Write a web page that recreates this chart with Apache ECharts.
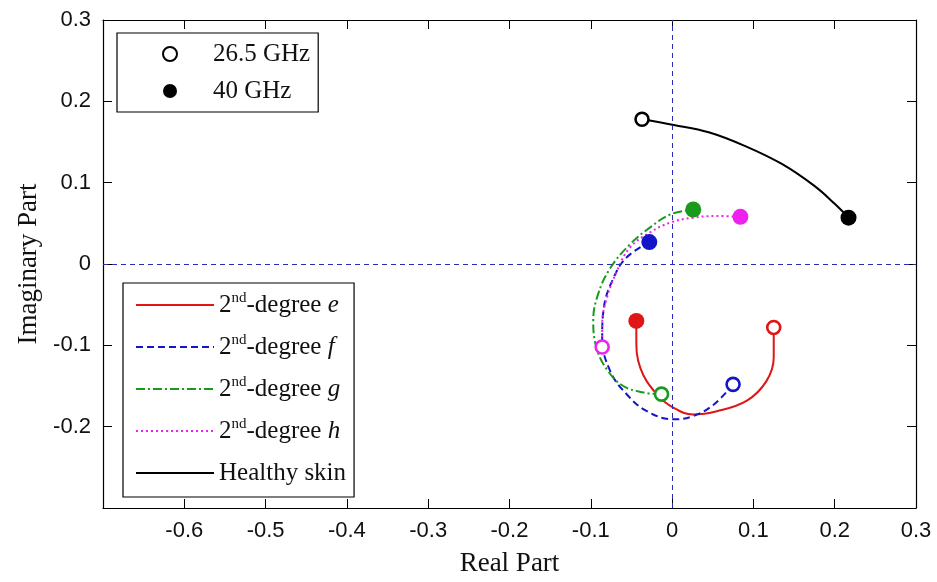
<!DOCTYPE html>
<html style="height: 100%">
<head>
<meta charset="utf-8">
</head>
<body style="height: 100%; margin: 0; background: #fff">
<div id="container" style="width: 937px; height: 582px"></div>
<script src="https://cdn.jsdelivr.net/npm/echarts@6/dist/echarts.min.js"></script>
<script type="text/javascript">
// points run from the 26.5 GHz end to the 40 GHz end: [real, imaginary]
var curveE = [[0.125,-0.078],[0.125,-0.115],[0.116,-0.144],[0.092,-0.168],[0.055,-0.181],[0.026,-0.185],[0.002,-0.177],[-0.019,-0.160],[-0.039,-0.128],[-0.044,-0.091],[-0.044,-0.070]];
var curveF = [[0.075,-0.148],[0.051,-0.173],[0.026,-0.187],[0.002,-0.191],[-0.031,-0.181],[-0.056,-0.160],[-0.076,-0.132],[-0.086,-0.091],[-0.084,-0.054],[-0.072,-0.017],[-0.056,0.008],[-0.028,0.027]];
var curveG = [[-0.013,-0.160],[-0.035,-0.158],[-0.060,-0.150],[-0.080,-0.130],[-0.093,-0.103],[-0.097,-0.070],[-0.091,-0.037],[-0.076,-0.005],[-0.052,0.024],[-0.027,0.045],[-0.002,0.061],[0.026,0.067]];
var curveH = [[-0.086,-0.102],[-0.086,-0.074],[-0.080,-0.041],[-0.068,-0.009],[-0.052,0.020],[-0.027,0.039],[-0.002,0.051],[0.026,0.057],[0.055,0.059],[0.084,0.058]];
var curveSkin = [[-0.037,0.178],[0.002,0.171],[0.045,0.162],[0.090,0.145],[0.135,0.123],[0.175,0.096],[0.200,0.074],[0.217,0.057]];

var curveNames = ['2nd-degree e', '2nd-degree f', '2nd-degree g', '2nd-degree h', 'Healthy skin'];
var curveLetters = ['e', 'f', 'g', 'h', ''];
var curveData = [curveE, curveF, curveG, curveH, curveSkin];
var curveColors = ['#e01515', '#1515c8', '#1a9a1a', '#ee22ee', '#000000'];
var curveDash = ['solid', [7, 4], [9, 3, 2, 3], [2, 3], 'solid'];

var dom = document.getElementById('container');
var myChart = echarts.init(dom);
var serif = 'Liberation Serif';
var sans = 'Liberation Sans';

var series = curveData.map(function (pts, i) {
    var s = {
        name: curveNames[i],
        type: 'line',
        data: pts,
        symbol: 'none',
        smooth: 0.4,
        z: 2,
        lineStyle: { color: curveColors[i], width: 2, type: curveDash[i] },
        itemStyle: { color: curveColors[i] }
    };
    if (i === 4) {
        s.markLine = {
            silent: true,
            symbol: ['none', 'none'],
            label: { show: false },
            lineStyle: { color: '#2a2ab8', width: 1, type: [5, 4] },
            data: [{ xAxis: 0 }, { yAxis: 0 }]
        };
    }
    return s;
});

series.push({
    name: '26.5 GHz',
    type: 'scatter',
    symbolSize: 13,
    z: 5,
    itemStyle: { color: '#fff', borderColor: '#000', borderWidth: 2.6, opacity: 1 },
    data: curveData.map(function (pts, i) {
        return { value: pts[0], itemStyle: { borderColor: curveColors[i] } };
    })
});
series.push({
    name: '40 GHz',
    type: 'scatter',
    symbolSize: 16,
    z: 5,
    itemStyle: { color: '#000', opacity: 1 },
    data: curveData.map(function (pts, i) {
        return { value: pts[pts.length - 1], itemStyle: { color: curveColors[i] } };
    })
});

var tickStyle = { show: true, inside: true, length: 9, lineStyle: { color: '#000', width: 1 } };
var lineStyle = { show: true, onZero: false, lineStyle: { color: '#000', width: 1.2 } };

var option = {
    animation: false,
    backgroundColor: '#fff',
    grid: { left: 103, top: 20, right: 21, bottom: 74 },
    legend: [{
        left: 117, top: 33,
        orient: 'vertical',
        selectedMode: false,
        backgroundColor: '#fff',
        borderColor: '#000', borderWidth: 1.2,
        padding: [8, 8, 8, 45],
        itemWidth: 76, itemHeight: 14, itemGap: 11,
        textStyle: { fontFamily: serif, fontSize: 25, lineHeight: 26, color: '#111' },
        data: ['26.5 GHz', '40 GHz']
    }, {
        left: 123, top: 283,
        orient: 'vertical',
        selectedMode: false,
        backgroundColor: '#fff',
        borderColor: '#000', borderWidth: 1.2,
        padding: [8, 8, 10, 12],
        itemWidth: 78, itemHeight: 14, itemGap: 14,
        itemStyle: { color: 'transparent', borderWidth: 0 },
        data: curveNames,
        formatter: function (name) {
            var i = curveNames.indexOf(name);
            if (!curveLetters[i]) return '{b|' + name + '}';
            return '{b|2}{s|nd}{b|-degree }{i|' + curveLetters[i] + '}';
        },
        textStyle: {
            fontFamily: serif, fontSize: 25, lineHeight: 28, color: '#111',
            rich: {
                b: { fontFamily: serif, fontSize: 25, lineHeight: 28 },
                s: { fontFamily: serif, fontSize: 15, lineHeight: 28, verticalAlign: 'top', padding: [0, 0, 8, 0] },
                i: { fontFamily: serif, fontSize: 25, lineHeight: 28, fontStyle: 'italic' }
            }
        }
    }],
    xAxis: [{
        type: 'value', min: -0.7, max: 0.3, interval: 0.1,
        name: 'Real Part', nameLocation: 'middle', nameGap: 42,
        nameTextStyle: { fontFamily: serif, fontSize: 27, color: '#111' },
        axisLine: lineStyle, axisTick: tickStyle, splitLine: { show: false },
        axisLabel: { fontFamily: sans, fontSize: 22, color: '#111', margin: 12, showMinLabel: false }
    }, {
        type: 'value', position: 'top', min: -0.7, max: 0.3, interval: 0.1,
        axisLine: lineStyle, axisTick: tickStyle, splitLine: { show: false },
        axisLabel: { show: false }
    }],
    yAxis: [{
        type: 'value', min: -0.3, max: 0.3, interval: 0.1,
        name: 'Imaginary Part', nameLocation: 'middle', nameGap: 58,
        nameTextStyle: { fontFamily: serif, fontSize: 27, color: '#111' },
        axisLine: lineStyle, axisTick: tickStyle, splitLine: { show: false },
        axisLabel: { fontFamily: sans, fontSize: 22, color: '#111', margin: 12, showMinLabel: false }
    }, {
        type: 'value', position: 'right', min: -0.3, max: 0.3, interval: 0.1,
        axisLine: lineStyle, axisTick: tickStyle, splitLine: { show: false },
        axisLabel: { show: false }
    }],
    series: series
};

myChart.setOption(option);
</script>
</body>
</html>
